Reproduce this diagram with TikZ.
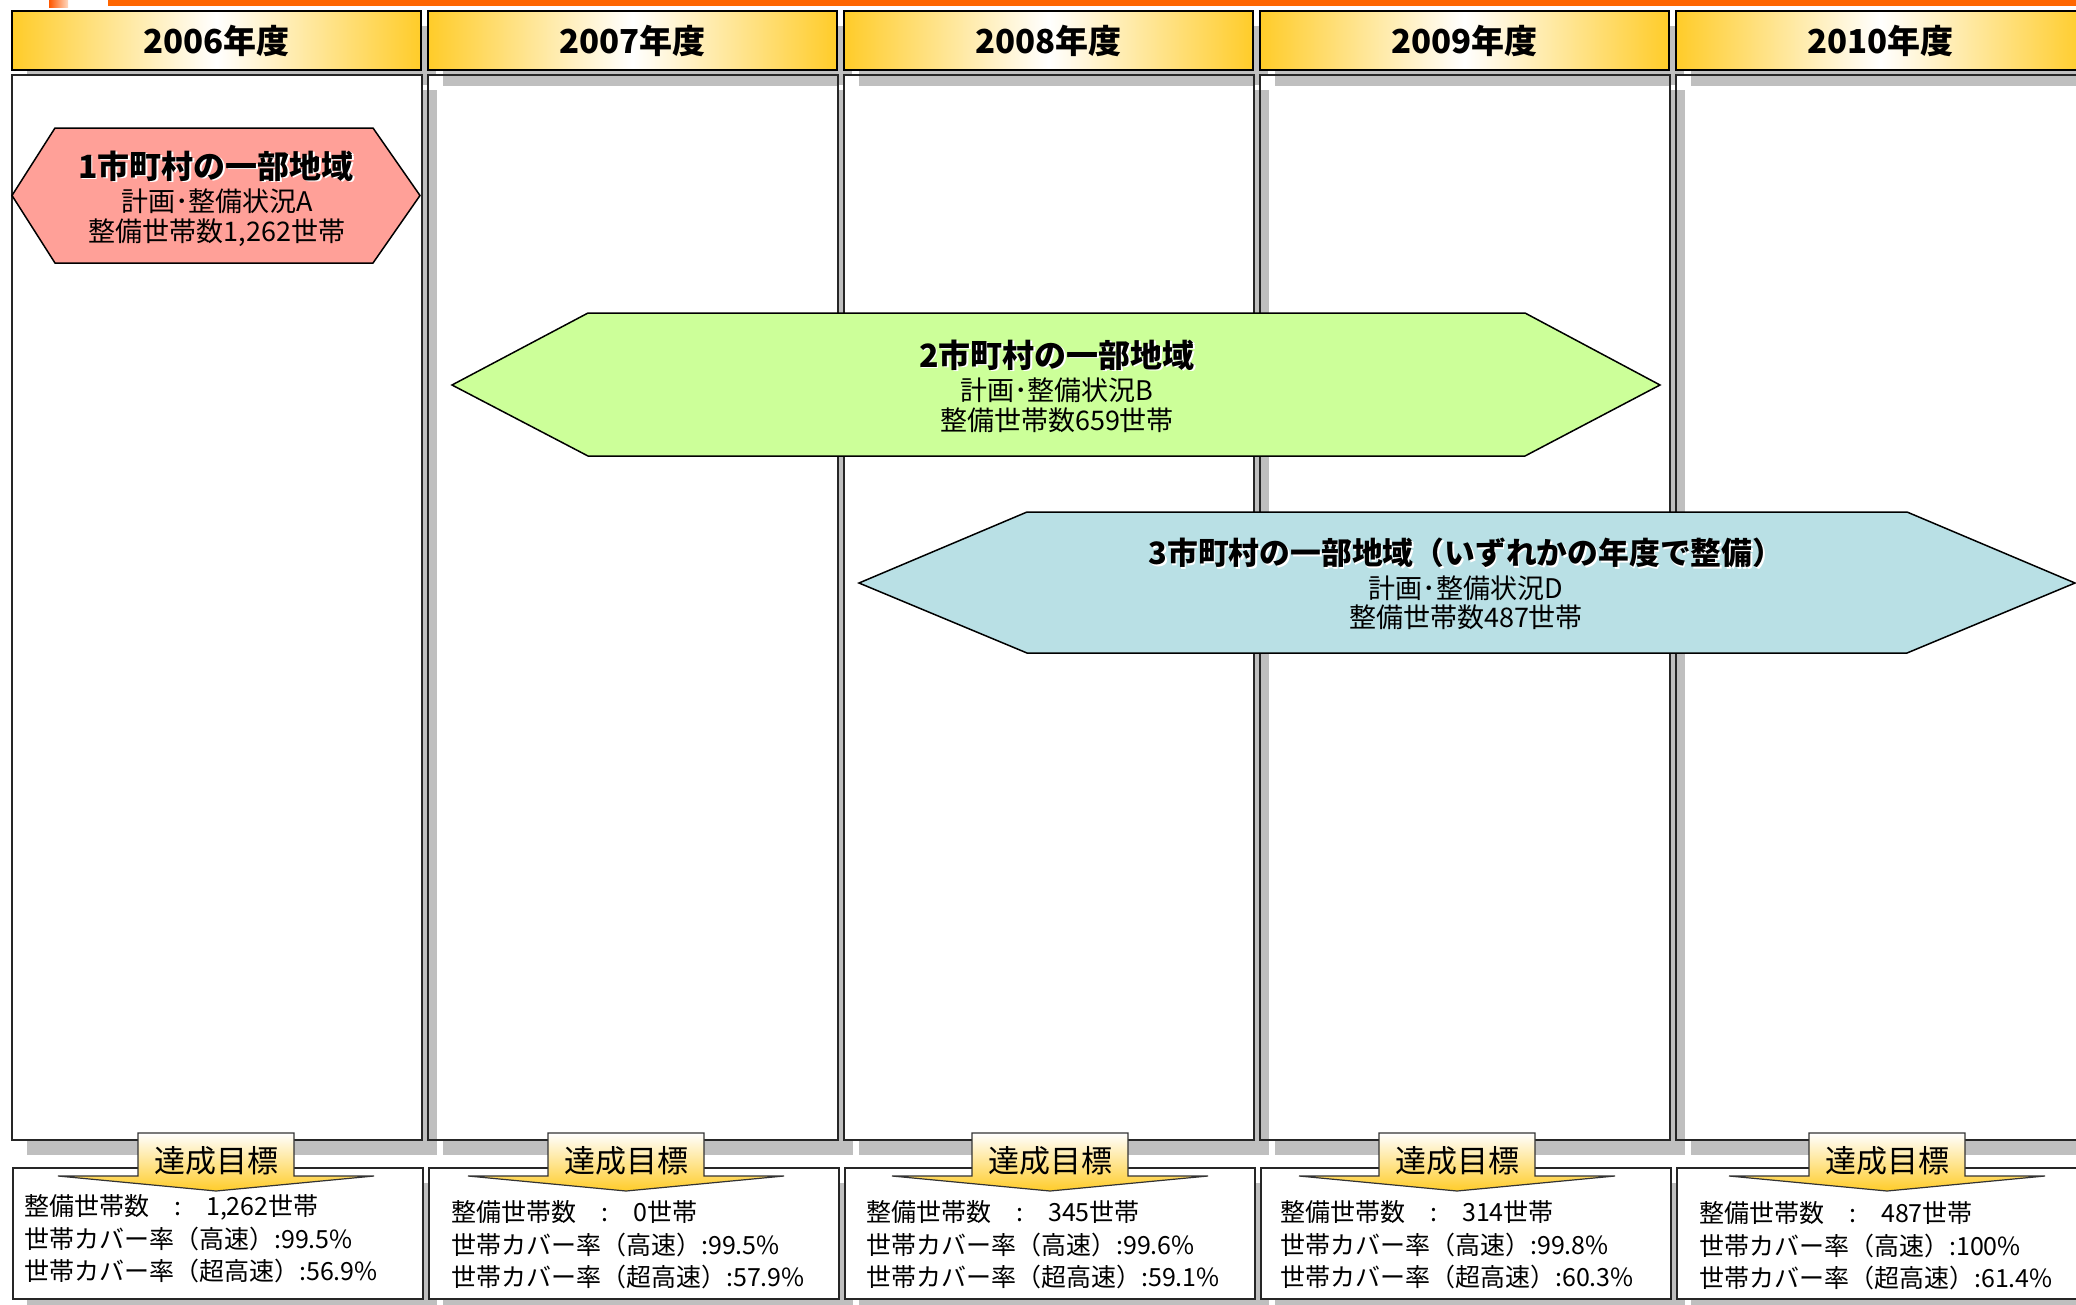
\documentclass[tikz,border=0pt]{standalone}
\usepackage{fontspec}
\setmainfont{Noto Sans CJK JP}
\definecolor{gold}{RGB}{255,204,41}
\definecolor{shd}{RGB}{191,191,191}
\definecolor{hexA}{RGB}{255,160,152}
\definecolor{hexB}{RGB}{204,255,153}
\definecolor{hexC}{RGB}{185,224,229}
\definecolor{topbar}{RGB}{255,102,0}
\tikzset{
  hdrbox/.style={draw=black, line width=1.5pt, minimum width=409pt, minimum height=59pt, inner sep=0pt,
    left color=gold, right color=gold, middle color=white,
    font=\fontsize{33}{36}\selectfont\bfseries},
  colbox/.style={draw=black!85, line width=1.5pt, minimum width=410pt, minimum height=1065pt, inner sep=0pt},
  botbox/.style={draw=black!85, fill=white, line width=1.5pt, minimum width=410pt, minimum height=131pt, inner sep=0pt},
  hexline/.style={draw=black, line width=1.5pt},
  titletxt/.style={font=\fontsize{32}{34}\selectfont\bfseries, inner sep=0pt},
  titletxtc/.style={font=\fontsize{30.8}{34}\selectfont\bfseries, inner sep=0pt},
  subtxt/.style={font=\fontsize{27}{29.5}\selectfont, align=center, inner sep=0pt},
  tgttxt/.style={font=\fontsize{31}{34}\selectfont, inner sep=0pt},
  valtxt/.style={font=\fontsize{25}{32.5}\selectfont, align=left, anchor=west, inner sep=0pt},
  tabshape/.style={draw=black!80, line width=1.2pt, top color=white, bottom color=gold}
}
\begin{document}
\begin{tikzpicture}[x=1pt,y=-1pt]
\useasboundingbox (0,0) rectangle (2076,1304);
\clip (0,0) rectangle (2076,1304);
\fill[white] (0,0) rectangle (2076,1304);
% top decoration
\fill[topbar] (108,0) rectangle (2076,6);
\shade[left color=topbar!85!red, right color=topbar!25] (49,0) rectangle (68,7);
% shadows
\foreach \i in {0,...,4}{
  \pgfmathsetmacro\xa{12+416*\i}
  \fill[shd] (\xa+15,26) rectangle (\xa+424,85);
  \fill[shd] (\xa+15,90) rectangle (\xa+425,1155);
  \fill[shd] (\xa+15,1183) rectangle (\xa+425,1314);
}
% white interiors of main boxes
\foreach \i in {0,...,4}{
  \pgfmathsetmacro\xa{12+416*\i}
  \fill[white] (\xa,75) rectangle (\xa+410,1140);
}
% shadow strips showing through boxes 2-5
\foreach \i in {1,...,4}{
  \pgfmathsetmacro\xa{12+416*\i}
  \fill[shd] (\xa+15,75) rectangle (\xa+410,86);
}
\foreach \i in {1,3,4}{
  \pgfmathsetmacro\xa{12+416*\i}
  \fill[shd] (\xa,90) rectangle (\xa+9,1140);
}
% headers and main boxes
\foreach \i/\yr in {0/2006,1/2007,2/2008,3/2009,4/2010}{
  \pgfmathsetmacro\xa{12+416*\i}
  \node[hdrbox] (hdr\i) at (\xa+204.5,40.5) {\yr 年度};
  \node[colbox] (col\i) at (\xa+205,607.5) {};
}
% hexagon 1
\draw[hexline, fill=hexA] (12,195.5) -- (55,128) -- (373,128) -- (420,195.5) -- (373,263) -- (55,263) -- cycle;
\node[titletxt, text=white] (t1s) at (217.5,167.5) {1市町村の一部地域};
\node[titletxt] (t1) at (216,166) {1市町村の一部地域};
\node[subtxt] (s1) at (217,217.5) {計画･整備状況A\\整備世帯数1,262世帯};
% hexagon 2
\draw[hexline, fill=hexB] (452,385) -- (588,313) -- (1525,313) -- (1660,385) -- (1525,456) -- (588,456) -- cycle;
\node[titletxt, text=white] (t2s) at (1058.5,356.5) {2市町村の一部地域};
\node[titletxt] (t2) at (1057,355) {2市町村の一部地域};
\node[subtxt] (s2) at (1057,405.5) {計画･整備状況B\\整備世帯数659世帯};
% hexagon 3
\draw[hexline, fill=hexC] (859,583) -- (1027,512) -- (1907,512) -- (2075,583) -- (1907,653) -- (1027,653) -- cycle;
\node[titletxtc, text=white] (t3s) at (1467.5,554.5) {3市町村の一部地域（いずれかの年度で整備）};
\node[titletxtc] (t3) at (1466,553) {3市町村の一部地域（いずれかの年度で整備）};
\node[subtxt] (s3) at (1466,603) {計画･整備状況D\\整備世帯数487世帯};
% bottom boxes, targets
\foreach \i/\tc/\tx/\ty/\n/\ra/\rb in {0/216/24/1239/{1,262}/99.5/56.9, 1/626/451/1245/0/99.5/57.9, 2/1050/866/1245/345/99.6/59.1, 3/1457/1280/1245/314/99.8/60.3, 4/1887/1699/1246/487/100/61.4}{
  \pgfmathsetmacro\xa{12+416*\i}
  \node[botbox] (bot\i) at (\xa+206,1233.5) {};
  \draw[tabshape] (\tc-78,1133) -- (\tc+78,1133) -- (\tc+78,1176) -- (\tc+158,1176) -- (\tc,1191) -- (\tc-158,1176) -- (\tc-78,1176) -- cycle;
  \node[tgttxt] (tgt\i) at (\tc,1161) {達成目標};
  \node[valtxt] (val\i) at (\tx,\ty) {整備世帯数\hspace{1.0em}:\hspace{1.0em}\n 世帯\\世帯カバー率（高速）:\ra\%\\世帯カバー率（超高速）:\rb\%};
}
\end{tikzpicture}
\end{document}
